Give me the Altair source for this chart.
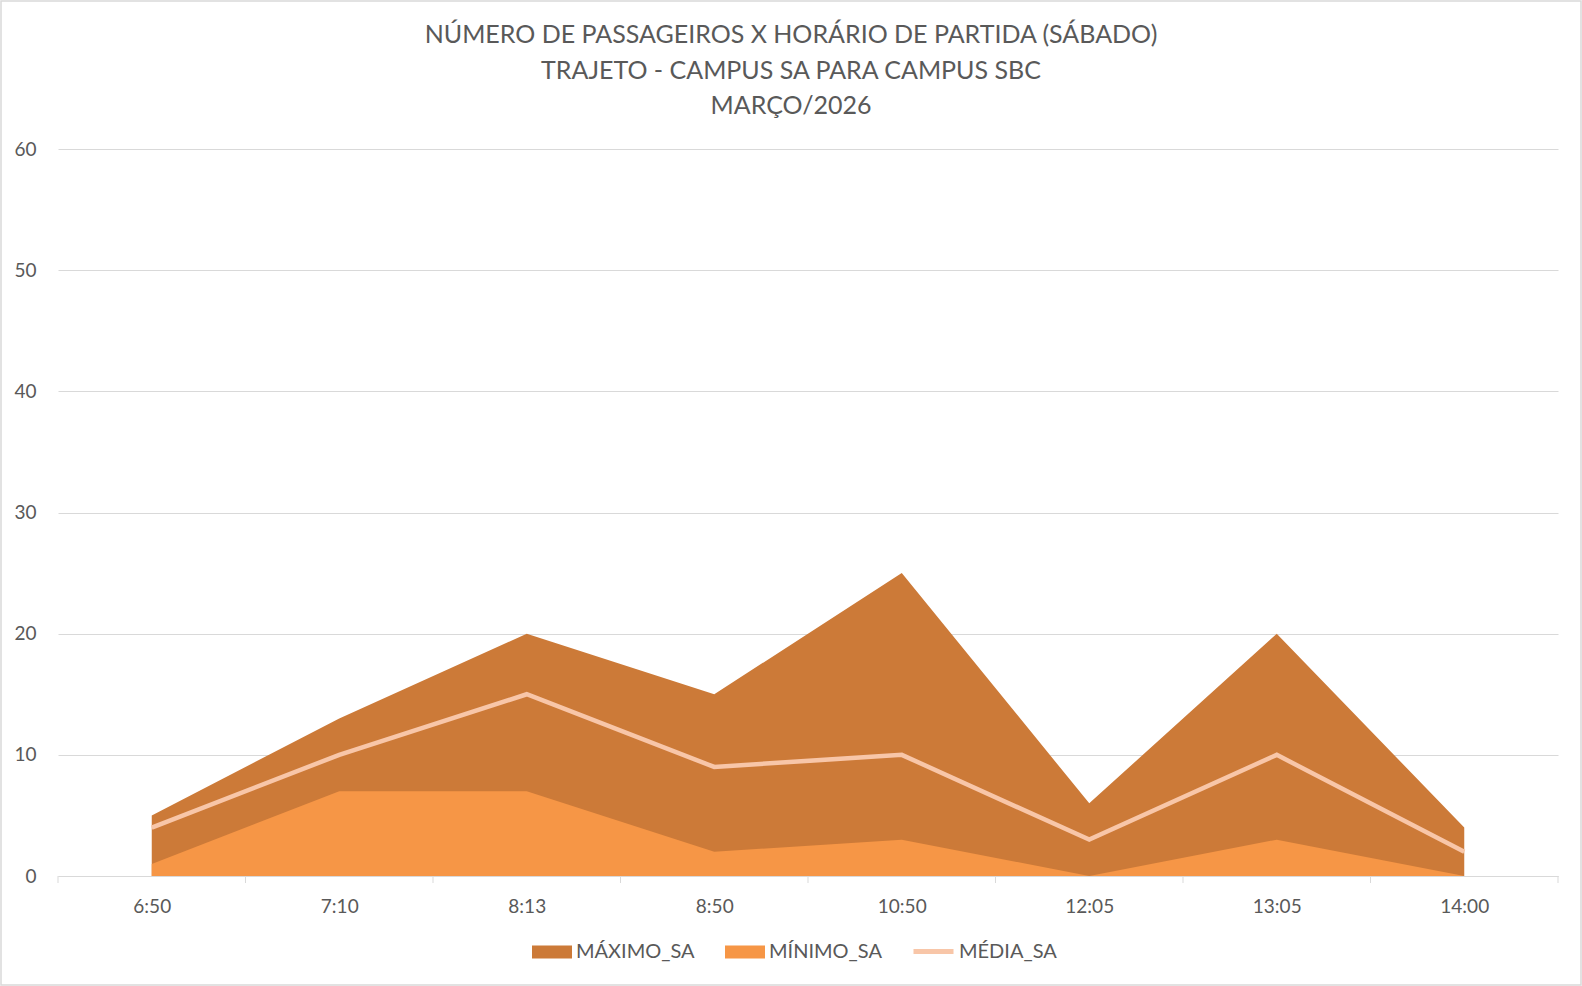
import altair as alt
import pandas as pd

horarios = ["6:50", "7:10", "8:13", "8:50", "10:50", "12:05", "13:05", "14:00"]
maximo = [5, 13, 20, 15, 25, 6, 20, 4]
minimo = [1, 7, 7, 2, 3, 0, 3, 0]
media = [4, 10, 15, 9, 10, 3, 10, 2]
series = ["MÁXIMO_SA", "MÍNIMO_SA", "MÉDIA_SA"]
cores = ["#CC7A38", "#F69646", "#F8C6A8"]
titulo = ["NÚMERO DE PASSAGEIROS X HORÁRIO DE PARTIDA (SÁBADO)",
          "TRAJETO - CAMPUS SA PARA CAMPUS SBC",
          "MARÇO/2026"]

rows = []
for i, h in enumerate(horarios):
    for s, vals in zip(series, [maximo, minimo, media]):
        rows.append({"i": i, "horario": h, "serie": s, "valor": vals[i]})
df = pd.DataFrame(rows)
bounds = pd.DataFrame({"b": [k - 0.5 for k in range(len(horarios) + 1)]})
um = pd.DataFrame({"k": [0]})

W, H = 1500, 727
PL, PT = 58, 149
PR, PB = 1582 - PL - W, 986 - PT - H
FONT = "Lato"
GREY = "#595959"

label_expr = "[" + ",".join("'%s'" % h for h in horarios) + "][datum.value]"

x = alt.X("i:Q",
          scale=alt.Scale(domain=[-0.5, len(horarios) - 0.5], nice=False, zero=False),
          axis=alt.Axis(values=list(range(len(horarios))), labelExpr=label_expr,
                        ticks=False, grid=False, domainColor="#D9D9D9", domainWidth=1,
                        labelFontSize=19, labelColor=GREY, labelFont=FONT,
                        labelPadding=21, title=None))
y = alt.Y("valor:Q", stack=None,
          scale=alt.Scale(domain=[0, 60], nice=False),
          axis=alt.Axis(values=[0, 10, 20, 30, 40, 50, 60], grid=True, gridColor="#D9D9D9",
                        domain=False, ticks=False, labelFontSize=19, labelColor=GREY,
                        labelFont=FONT, labelPadding=22, title=None))

fill_legend = alt.Legend(
    orient="none", legendX=474, legendY=783, direction="horizontal", title=None,
    labelFontSize=20, labelColor=GREY, labelFont=FONT,
    symbolType="M-1,-0.32H1V0.32H-1Z", symbolSize=1600, symbolStrokeWidth=0,
    symbolOpacity=1, columnPadding=30, labelOffset=4)
stroke_legend = alt.Legend(
    orient="none", legendX=853, legendY=780, direction="horizontal", title=None,
    labelFontSize=20, labelColor=GREY, labelFont=FONT,
    symbolType="M-1,0H1", symbolSize=1600, symbolStrokeWidth=5,
    symbolOpacity=1, labelOffset=3)

fill = alt.Fill("serie:N", scale=alt.Scale(domain=series[:2], range=cores[:2]), legend=fill_legend)
stroke = alt.Stroke("serie:N", scale=alt.Scale(domain=series[2:], range=cores[2:]), legend=stroke_legend)

base = alt.Chart(df)
area_max = base.transform_filter(alt.datum.serie == series[0]).mark_area(opacity=1).encode(x=x, y=y, fill=fill)
area_min = base.transform_filter(alt.datum.serie == series[1]).mark_area(opacity=1).encode(x=x, y=y, fill=fill)
linha = base.transform_filter(alt.datum.serie == series[2]).mark_line(strokeWidth=4.5).encode(x=x, y=y, stroke=stroke)
ticks = alt.Chart(bounds).mark_rule(color="#D9D9D9", strokeWidth=1).encode(
    x=alt.X("b:Q"), y=alt.value(H), y2=alt.value(H + 7))
borda = alt.Chart(um).mark_rect(
    fill=None, stroke="#D9D9D9", strokeWidth=1.5).encode(
    x=alt.value(-PL + 1), x2=alt.value(W + PR - 1),
    y=alt.value(-PT + 1), y2=alt.value(H + PB - 1))

title_y = [-114, -78.5, -43]
title_layers = [
    alt.Chart(um).mark_text(text=t, font=FONT, fontSize=25, color=GREY,
                            align="center", baseline="middle").encode(
        x=alt.value(733), y=alt.value(ty))
    for t, ty in zip(titulo, title_y)
]

chart = alt.layer(area_max, area_min, linha, ticks, borda, *title_layers).properties(
    width=W, height=H,
    autosize=alt.AutoSizeParams(type="none"),
    padding={"left": PL, "top": PT, "right": PR, "bottom": PB},
    background="white",
).configure_view(stroke=None)

chart.save("out.html", embed_options={"renderer": "svg", "actions": False})
